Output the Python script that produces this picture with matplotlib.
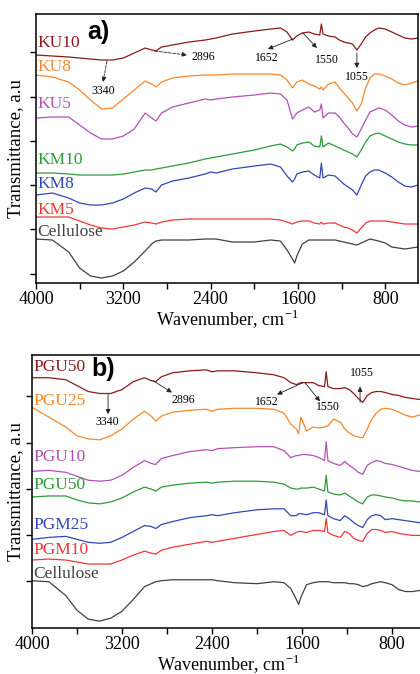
import matplotlib
matplotlib.use('Agg')
import matplotlib.pyplot as plt
from matplotlib.ticker import MultipleLocator

plt.rcParams['font.family'] = ['Liberation Serif', 'DejaVu Serif']
plt.rcParams['mathtext.fontset'] = 'custom'
plt.rcParams['mathtext.rm'] = 'Liberation Serif'

# shared wavenumber grid (cm-1)
wn = [4000, 3850, 3700, 3600, 3500, 3400, 3300, 3200, 3100, 3000,
      2940, 2900, 2850, 2750, 2600, 2450, 2400, 2350, 2200, 2000,
      1850, 1760, 1700, 1650, 1630, 1610, 1560, 1500, 1450, 1400,
      1385, 1370, 1320, 1260, 1220, 1180, 1140, 1100, 1060, 1020,
      980, 940, 900, 860, 800, 740, 680, 620, 560, 500]

# panel a) spectra (stacked, a.u.)
ku10 = [228, 227, 226, 225, 224, 223, 223, 225, 230, 235, 233, 232, 236, 238, 241, 243, 244, 245, 249, 252,
        254, 255, 251, 243, 245, 247, 250, 251, 249, 248, 259, 249, 247, 246, 243, 241, 240, 239, 233, 239,
        246, 250, 253, 255, 254, 251, 248, 245, 244, 245]
ku8 = [208, 206, 201, 193, 183, 174, 175, 184, 193, 202, 199, 196, 201, 205, 207, 208, 208, 208, 209, 209,
       209, 208, 203, 195, 198, 201, 203, 199, 197, 194, 196, 193, 199, 201, 195, 190, 185, 180, 172, 179,
       195, 205, 209, 209, 207, 204, 200, 198, 200, 202]
ku5 = [165, 166, 166, 158, 150, 144, 144, 147, 154, 170, 165, 162, 170, 176, 180, 184, 183, 184, 186, 188,
       190, 189, 183, 164, 167, 170, 173, 176, 171, 173, 179, 165, 170, 170, 166, 160, 155, 149, 146, 154,
       163, 171, 173, 175, 173, 168, 162, 158, 156, 157]
km10 = [110, 110, 109, 108, 108, 108, 108, 109, 111, 113, 113, 114, 115, 117, 120, 124, 125, 126, 129, 133,
        137, 139, 136, 132, 134, 138, 140, 141, 137, 136, 147, 136, 140, 137, 135, 133, 131, 129, 126, 133,
        141, 147, 149, 150, 147, 144, 141, 139, 138, 138]
km8 = [88, 90, 85, 80, 78, 78, 80, 84, 90, 95, 94, 91, 98, 102, 105, 109, 111, 110, 114, 117,
       119, 116, 107, 101, 104, 109, 111, 112, 108, 105, 120, 105, 108, 107, 103, 99, 96, 93, 88, 98,
       107, 111, 113, 113, 110, 106, 101, 97, 96, 98]
km5 = [66, 66, 66, 62, 58, 55, 54, 56, 58, 61, 60, 59, 61, 63, 64, 64, 64, 64, 64, 64,
       64, 63, 61, 59, 60, 61, 62, 62, 60, 59, 61, 59, 60, 60, 58, 56, 55, 53, 50, 55,
       60, 62, 62, 62, 62, 61, 60, 59, 59, 59]
cell_a = [44, 43, 31, 15, 7, 5, 7, 12, 21, 32, 39, 42, 43, 43, 43, 44, 44, 44, 41, 41,
          43, 42, 33, 24, 20, 27, 39, 43, 43, 43, 43, 43, 43, 43, 42, 41, 40, 39, 38, 40,
          42, 44, 43, 42, 40, 36, 35, 34, 35, 36]

# panel b) spectra (stacked, a.u.)
pgu50 = [254, 254, 252, 246, 240, 238, 238, 242, 250, 254, 251, 250, 255, 259, 261, 262, 260, 261, 261, 259,
         257, 254, 249, 247, 248, 249, 249, 249, 246, 245, 260, 245, 243, 243, 244, 242, 238, 233, 229, 236,
         239, 240, 240, 239, 237, 236, 234, 233, 232, 232]
pgu25 = [224, 214, 204, 195, 192, 191, 195, 202, 212, 220, 215, 210, 215, 219, 221, 222, 220, 222, 223, 223,
         222, 218, 207, 202, 197, 214, 200, 204, 203, 204, 205, 205, 212, 209, 202, 198, 195, 194, 193, 202,
         212, 218, 222, 223, 222, 219, 216, 214, 216, 217]
pgu10 = [159, 160, 158, 154, 150, 149, 150, 155, 163, 170, 167, 166, 172, 175, 179, 181, 180, 182, 183, 184,
         184, 180, 173, 175, 175, 176, 176, 175, 173, 170, 189, 170, 167, 165, 169, 165, 162, 158, 156, 165,
         168, 170, 169, 167, 166, 164, 162, 160, 159, 159]
pgu50_g = [133, 134, 134, 130, 127, 126, 128, 132, 138, 143, 141, 139, 143, 145, 147, 148, 147, 148, 149, 149,
           148, 146, 142, 141, 141, 142, 142, 143, 141, 139, 155, 138, 136, 135, 137, 134, 131, 128, 126, 133,
           135, 135, 134, 133, 132, 130, 129, 129, 128, 128]
pgm25 = [90, 92, 93, 90, 87, 86, 87, 92, 98, 104, 103, 101, 105, 108, 112, 114, 115, 114, 117, 120,
         121, 121, 114, 114, 116, 116, 115, 117, 117, 115, 130, 114, 111, 109, 114, 111, 107, 104, 102, 110,
         114, 115, 114, 110, 111, 110, 109, 108, 107, 107]
pgm10 = [69, 70, 69, 67, 65, 65, 65, 69, 74, 78, 76, 75, 79, 82, 85, 88, 87, 88, 91, 95,
         98, 99, 94, 97, 98, 98, 97, 99, 99, 98, 111, 97, 94, 92, 98, 96, 91, 89, 88, 96,
         100, 100, 99, 97, 98, 96, 95, 94, 94, 94]
cell_b = [48, 47, 33, 18, 9, 7, 10, 17, 29, 42, 45, 47, 48, 49, 49, 49, 49, 48, 46, 45,
          47, 46, 40, 29, 24, 31, 44, 46, 47, 47, 47, 47, 46, 46, 46, 45, 45, 44, 42, 43,
          45, 46, 47, 46, 44, 39, 37, 37, 38, 39]

c_dred, c_or, c_pu, c_gr, c_bl, c_rd, c_gy = '#8b1a1a', '#f5882b', '#b350b8', '#2e9a3a', '#3048b0', '#f03838', '#404040'

names_a = ['KU10', 'KU8', 'KU5', 'KM10', 'KM8', 'KM5', 'Cellulose']
series_a = [ku10, ku8, ku5, km10, km8, km5, cell_a]
label_y_a = [240, 216, 179, 123, 99, 73, 51]
names_b = ['PGU50', 'PGU25', 'PGU10', 'PGU50', 'PGM25', 'PGM10', 'Cellulose']
series_b = [pgu50, pgu25, pgu10, pgu50_g, pgm25, pgm10, cell_b]
label_y_b = [265, 230, 174, 145, 105, 79, 55]
colors = [c_dred, c_or, c_pu, c_gr, c_bl, c_rd, c_gy]

# band annotations: text, arrow start, arrow tip, text position, dashed
ann_a = [('3340', (3350, 222), (3386, 201), (3386, 192), True),
         ('2896', (2910, 232), (2617, 228), (2470, 226), True),
         ('1652', (1646, 244), (1875, 234), (1884, 225), False),
         ('1550', (1554, 250), (1426, 235), (1334, 223), False),
         ('1055', (1060, 230), (1060, 215), (1060, 206), False)]
ann_b = [('3340', (3324, 237), (3324, 217), (3333, 209), False),
         ('2896', (2924, 251), (2756, 239), (2658, 231), False),
         ('1652', (1591, 249), (1822, 237), (1911, 229), False),
         ('1550', (1573, 249), (1440, 230), (1369, 224), False),
         ('1055', (1084, 229), (1084, 245), (1067, 259), False)]

fig = plt.figure(figsize=(4.2, 6.74), dpi=100)
ax_a = fig.add_axes([0.0857, 0.5801, 0.9095, 0.3991])
ax_b = fig.add_axes([0.0762, 0.0682, 0.9375, 0.405])


def draw(ax, series, names, label_y, ann, ylim, yticks, tag, tag_pos, labelpad):
    for s, nm, ly, c in zip(series, names, label_y, colors):
        ax.plot(wn, s, color=c, lw=0.9)
        ax.text(3985, ly, nm, color=c, fontsize=12.5, ha='left', va='center')
    for txt, start, tip, tpos, dashed in ann:
        ax.annotate('', xy=tip, xytext=start,
                    arrowprops=dict(arrowstyle='-|>', color='#222222', lw=0.6,
                                    mutation_scale=7, shrinkA=0, shrinkB=0,
                                    linestyle='--' if dashed else '-'))
        ax.text(tpos[0], tpos[1], txt, fontsize=8.5, ha='center', va='center')
    ax.text(tag_pos[0], tag_pos[1], tag, fontsize=18, fontweight='bold',
            family='Liberation Sans', ha='center', va='center')
    ax.set_xlim(4000, 500)
    ax.set_ylim(*ylim)
    ax.xaxis.set_minor_locator(MultipleLocator(400))
    ax.set_xticks([4000, 3200, 2400, 1600, 800])
    ax.set_yticks(yticks)
    ax.set_yticklabels([])
    ax.tick_params(axis='both', which='both', direction='out', length=4, width=1)
    ax.tick_params(axis='x', labelsize=13, pad=1.5)
    for sp in ax.spines.values():
        sp.set_linewidth(1.1)
    ax.set_xlabel('Wavenumber, cm$^{-1}$', fontsize=13, labelpad=-0.5)
    ax.set_ylabel('Transmittance, a.u', fontsize=13.5, labelpad=labelpad)


draw(ax_a, series_a, names_a, label_y_a, ann_a, (0, 269), [9, 54, 98, 142, 186, 231],
     'a)', (3432, 251), 1)
draw(ax_b, series_b, names_b, label_y_b, ann_b, (0, 277), [48, 94, 141, 188, 235],
     'b)', (3369, 263), -2)

fig.savefig('out.png', dpi=100)
